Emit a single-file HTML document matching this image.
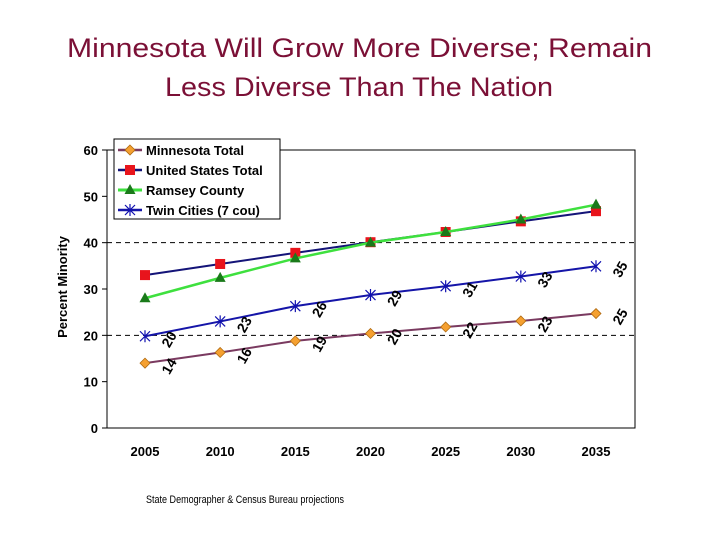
<!DOCTYPE html>
<html><head><meta charset="utf-8"><style>
body{margin:0;background:#fff;}
svg{display:block;font-family:"Liberation Sans",Arial,sans-serif;}
</style></head><body>
<svg width="720" height="540" viewBox="0 0 720 540" id="chart">
<text x="67" y="57" font-size="27" fill="#7b1036" textLength="585" lengthAdjust="spacingAndGlyphs">Minnesota Will Grow More Diverse; Remain</text>
<text x="165" y="96" font-size="27" fill="#7b1036" textLength="388" lengthAdjust="spacingAndGlyphs">Less Diverse Than The Nation</text>
<text x="146" y="503" font-size="11" fill="#000" textLength="198" lengthAdjust="spacingAndGlyphs">State Demographer &amp; Census Bureau projections</text>
<text transform="translate(67,287) rotate(-90)" text-anchor="middle" font-size="13" font-weight="bold">Percent Minority</text>
<g id="plot"></g>
</svg>
<script>
const years=[2005,2010,2015,2020,2025,2030,2035];
const mnTotal=[14,16.3,18.8,20.4,21.8,23.1,24.7];
const usTotal=[33,35.4,37.8,40.1,42.3,44.6,46.8];
const ramsey=[28,32.4,36.6,40,42.3,45,48.2];
const twinCities=[19.8,23,26.3,28.7,30.6,32.7,34.9];
const mnLabels=["14","16","19","20","22","23","25"];
const tcLabels=["20","23","26","29","31","33","35"];
const yTicks=[0,10,20,30,40,50,60];
const NS="http://www.w3.org/2000/svg";
const g=document.getElementById('plot');
const X=y=>145+(y-2005)*(596-145)/30;
const Y=v=>428-v*(428-150)/60;
function mk(t,a){const e=document.createElementNS(NS,t);for(const k in a)e.setAttribute(k,a[k]);g.appendChild(e);return e;}
let e=mk('rect',{x:107,y:150,width:528,height:278,fill:'none',stroke:'#000','stroke-width':1});


[20,40].forEach(v=>{const l=mk('line',{x1:107,x2:635,y1:Y(v),y2:Y(v),stroke:'#000','stroke-dasharray':'5,4'});

});
yTicks.forEach(v=>{const l=mk('line',{x1:102,x2:107,y1:Y(v),y2:Y(v),stroke:'#000'});


const t=mk('text',{x:98,y:Y(v)+5,'text-anchor':'end','font-size':13,'font-weight':'bold'});t.textContent=v;

});
years.forEach(y=>{const t=mk('text',{x:X(y),y:456,'text-anchor':'middle','font-size':13,'font-weight':'bold'});t.textContent=y;

});
function marker(type,x,y){let m;
if(type==='diamond')m=mk('polygon',{points:`${x},${y-5} ${x+5},${y} ${x},${y+5} ${x-5},${y}`,fill:'#f5a030',stroke:'#b06a10','stroke-width':0.8});
else if(type==='square')m=mk('rect',{x:x-5,y:y-5,width:10,height:10,fill:'#e8141c'});
else if(type==='tri')m=mk('polygon',{points:`${x},${y-6} ${x+5.5},${y+4} ${x-5.5},${y+4}`,fill:'#1a7a1a'});
else{m=mk('path',{d:`M${x-5},${y-5}L${x+5},${y+5}M${x-5},${y+5}L${x+5},${y-5}M${x},${y-6}L${x},${y+6}`,stroke:'#1010b0','stroke-width':1.2,fill:'none'});}
return m;}
const series=[
 {name:'twin-cities',vals:twinCities,color:'#1515a8',w:2,m:'star'},
 {name:'minnesota-total',vals:mnTotal,color:'#7a3a60',w:2,m:'diamond'},
 {name:'united-states-total',vals:usTotal,color:'#141478',w:2,m:'square'},
 {name:'ramsey-county',vals:ramsey,color:'#3ee03e',w:2.5,m:'tri'}];
series.forEach(s=>{const p=mk('polyline',{points:s.vals.map((v,i)=>X(years[i])+','+Y(v)).join(' '),fill:'none',stroke:s.color,'stroke-width':s.w});


s.vals.forEach((v,i)=>{const m=marker(s.m,X(years[i]),Y(v));

});});
function labels(vals,texts,name){vals.forEach((v,i)=>{const x=X(years[i])+24,y=Y(v)+8;
const t=mk('text',{x:x,y:y,'text-anchor':'middle','font-size':14,'font-weight':'bold',transform:`rotate(-60 ${x} ${y-5})`});t.textContent=texts[i];

});}
labels(mnTotal,mnLabels,'minnesota-total');
labels(twinCities,tcLabels,'twin-cities');
const lg=mk('rect',{x:114,y:139,width:166,height:80,fill:'#fff',stroke:'#000'});


const legendNames=['Minnesota Total','United States Total','Ramsey County','Twin Cities (7 cou)'];
const order=[1,2,3,0];
order.forEach((si,i)=>{const s=series[si];const y=150+i*20;
const l=mk('line',{x1:118,x2:142,y1:y,y2:y,stroke:s.color,'stroke-width':s.w+0.5});


const m=marker(s.m,130,y);


const t=mk('text',{x:146,y:y+5,'font-size':13,'font-weight':'bold'});t.textContent=legendNames[i];

});
</script>
</body></html>
